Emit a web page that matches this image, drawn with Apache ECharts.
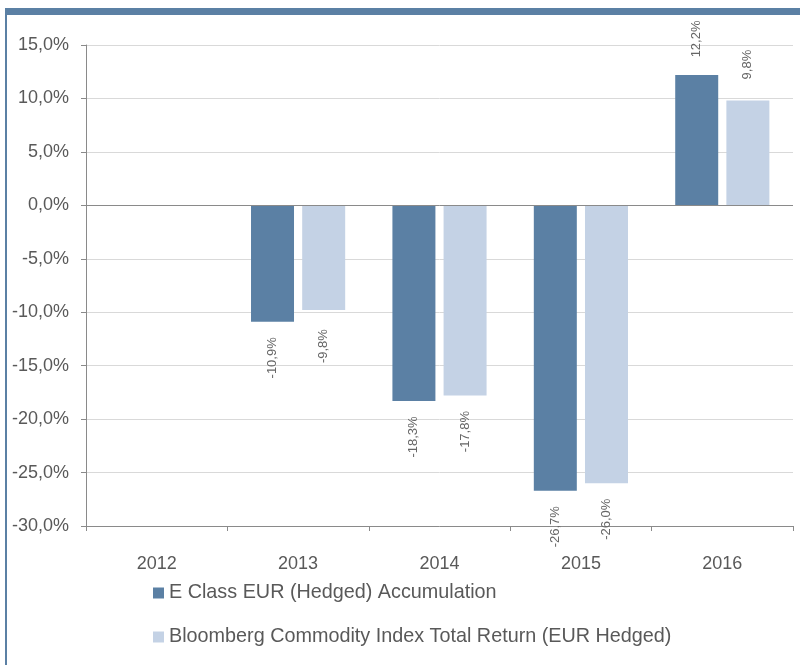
<!DOCTYPE html>
<html>
<head>
<meta charset="utf-8">
<script src="https://cdn.jsdelivr.net/npm/echarts@6/dist/echarts.min.js"></script>
<style>
  html, body { margin: 0; padding: 0; background: #fff; }
  #chart { width: 800px; height: 665px; }
</style>
</head>
<body>
<div id="chart"></div>
<script>
const years = ['2012', '2013', '2014', '2015', '2016'];
const fundName = 'E Class EUR (Hedged) Accumulation';
const indexName = 'Bloomberg Commodity Index Total Return (EUR Hedged)';
const fundValues = [null, -10.9, -18.3, -26.7, 12.2];
const indexValues = [null, -9.8, -17.8, -26.0, 9.8];

const darkBlue = '#5b80a4';
const lightBlue = '#c4d2e5';
const textGrey = '#595959';
const axisGrey = '#8a8a8a';

const pct = (v) => v.toFixed(1).replace('.', ',') + '%';

// label sits past the bar end, so flip side for negative values
const toItems = (values) => values.map((v) => {
  if (v == null) return '-';
  return { value: v, label: { position: v < 0 ? 'bottom' : 'top' } };
});

const barLabel = {
  show: true,
  rotate: 90,
  align: 'center',
  verticalAlign: 'middle',
  distance: 36,
  fontSize: 13,
  fontFamily: 'Liberation Sans, Arial, sans-serif',
  color: '#666666',
  formatter: (p) => pct(p.value),
};

const chart = echarts.init(document.getElementById('chart'));

const option = {
  animation: false,
  textStyle: { fontFamily: 'Liberation Sans, Arial, sans-serif' },
  graphic: [
    { type: 'rect', shape: { x: 5, y: 8, width: 795, height: 7 }, style: { fill: darkBlue } },
    { type: 'rect', shape: { x: 5, y: 8, width: 2, height: 657 }, style: { fill: darkBlue } },
  ],
  grid: { left: 86, right: 7, top: 45, bottom: 139 },
  legend: {
    orient: 'vertical',
    left: 153,
    top: 583,
    padding: 0,
    itemWidth: 11,
    itemHeight: 11,
    itemGap: 24,
    icon: 'rect',
    textStyle: { fontSize: 19.8, color: textGrey },
    data: [fundName, indexName],
  },
  xAxis: {
    type: 'category',
    data: years,
    axisLine: { onZero: false, lineStyle: { color: axisGrey } },
    axisTick: { show: true, length: 5, lineStyle: { color: axisGrey } },
    axisLabel: { fontSize: 18, color: textGrey, margin: 29 },
  },
  yAxis: {
    type: 'value',
    min: -30,
    max: 15,
    interval: 5,
    axisLine: { show: true, lineStyle: { color: axisGrey } },
    axisTick: { show: true, length: 5, lineStyle: { color: axisGrey } },
    axisLabel: { fontSize: 18, color: textGrey, margin: 17, formatter: pct },
    splitLine: { lineStyle: { color: '#d9d9d9' } },
  },
  series: [
    {
      name: fundName,
      type: 'bar',
      barWidth: 43,
      barGap: '19%',
      itemStyle: { color: darkBlue },
      label: barLabel,
      data: toItems(fundValues),
      markLine: {
        silent: true,
        symbol: 'none',
        label: { show: false },
        lineStyle: { color: axisGrey, type: 'solid', width: 1 },
        data: [{ yAxis: 0 }],
      },
    },
    {
      name: indexName,
      type: 'bar',
      barWidth: 43,
      itemStyle: { color: lightBlue },
      label: barLabel,
      data: toItems(indexValues),
    },
  ],
};

chart.setOption(option);
</script>
</body>
</html>
